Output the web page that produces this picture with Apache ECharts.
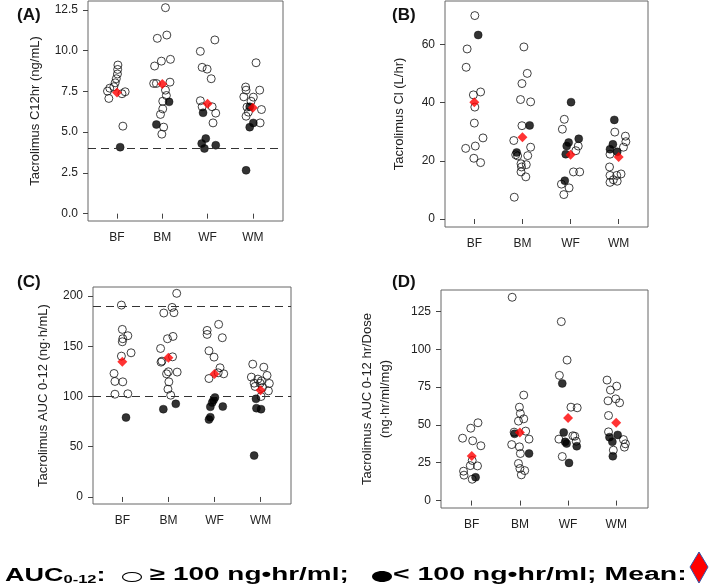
<!DOCTYPE html>
<html>
<head>
<meta charset="utf-8">
<script src="https://cdn.jsdelivr.net/npm/echarts@6/dist/echarts.min.js"></script>
<style>
  html, body { margin: 0; padding: 0; background: #fff; }
  #chart { width: 709px; height: 586px; }
</style>
</head>
<body>
<div id="chart"></div>
<script>
const groups = ['BF', 'BM', 'WF', 'WM'];

// values per group (BF, BM, WF, WM) and the horizontal jitter of each point
// (A) C12hr
const aOpen = [
  [9.12, 8.85, 8.57, 8.28, 8.03, 7.70, 7.52, 7.07, 7.36, 7.48, 5.37, 7.79],
  [12.64, 10.96, 10.76, 9.36, 9.47, 9.06, 7.99, 7.99, 8.07, 7.58, 7.25, 6.9, 6.43, 6.09, 5.31, 4.88],
  [10.66, 9.96, 8.98, 8.87, 8.28, 6.93, 6.56, 6.56, 6.17, 5.57],
  [9.26, 7.77, 7.58, 7.58, 7.15, 7.17, 6.9, 6.54, 6.23, 5.98, 6.39, 5.57]
];
const aOpenJit = [
  [0.02, 0.015, 0.01, -0.015, -0.04, -0.16, -0.21, -0.18, 0.11, 0.18, 0.13, -0.07],
  [0.07, 0.10, -0.11, -0.02, 0.18, -0.17, -0.19, -0.13, 0.17, 0.07, 0.09, 0.01, 0.01, -0.04, 0.03, -0.01],
  [0.16, -0.16, -0.12, -0.01, 0.08, -0.16, -0.12, 0.10, 0.18, 0.12],
  [0.07, -0.16, -0.15, 0.15, 0.01, -0.20, -0.04, -0.13, -0.10, -0.15, 0.19, 0.16]
];
const aFilled = [[4.08], [5.47, 6.86], [6.19, 4.61, 4.30, 4.0, 4.2], [6.56, 5.31, 5.57, 2.66]];
const aFilledJit = [[0.07], [-0.13, 0.15], [-0.10, -0.04, -0.13, -0.07, 0.18], [-0.07, -0.07, 0.01, -0.15]];
const aMean = [7.44, 7.95, 6.74, 6.5];

// (B) Cl
const bOpen = [
  [69.98, 58.5, 52.2, 43.7, 42.7, 38.5, 33.0, 27.9, 25.1, 24.3, 20.9, 19.4],
  [59.2, 50.1, 46.6, 41.1, 40.3, 32.1, 27.0, 24.7, 22.1, 21.7, 21.8, 19.0, 18.7, 17.9, 16.2, 14.5, 7.5],
  [34.3, 30.9, 25.1, 23.5, 12.0, 10.7, 8.4, 16.2, 16.2],
  [29.9, 28.5, 26.6, 24.7, 22.3, 17.9, 15.0, 12.6, 13.5, 15.0, 15.5, 13.0]
];
const bOpenJit = [
  [0.01, -0.15, -0.17, 0.13, -0.02, 0.01, 0, 0.18, 0.02, -0.18, -0.01, 0.13],
  [0.03, 0.10, -0.01, -0.04, 0.17, -0.01, -0.18, 0.17, -0.14, -0.10, 0.11, -0.03, 0.08, -0.02, -0.03, 0.07, -0.17],
  [-0.13, -0.17, 0.16, 0.11, -0.19, -0.03, -0.14, 0.06, 0.19],
  [-0.08, 0.14, 0.15, 0.10, -0.18, -0.19, -0.18, -0.18, -0.11, -0.04, 0.05, -0.03]
];
const bFilled = [[63.3], [32.2, 22.9], [40.2, 27.6, 26.3, 25.1, 22.3, 13.2], [34.1, 25.7, 24.0, 23.1]];
const bFilledJit = [[0.08], [0.15, -0.12], [0.01, 0.17, -0.04, -0.08, -0.10, -0.12], [-0.09, -0.12, -0.18, -0.03]];
const bMean = [40.2, 28.1, 22.1, 21.3];

// (C) AUC 0-12
const cOpen = [
  [191.0, 166.8, 160.5, 157.5, 154.5, 143.5, 140.2, 122.9, 115, 114.6, 102.3, 102.7],
  [202.7, 188.7, 183.1, 183.4, 159.8, 157.5, 147.8, 135.2, 134.2, 139.5, 124.6, 122.6, 124.3, 114.6, 107.3, 101.3],
  [171.8, 165.8, 161.8, 158.5, 145.5, 139.2, 128.6, 123.6, 122.6, 117.9],
  [132.2, 129.2, 119.3, 117.3, 121.0, 115.6, 113.3, 113.0, 110.0, 113.3, 109.0, 105.6, 100.0]
];
const cOpenJit = [
  [-0.02, 0, 0.12, 0.01, 0, 0.19, -0.02, -0.18, -0.16, 0.01, -0.16, 0.12],
  [0.18, 0.08, -0.10, 0.12, 0.10, -0.02, -0.17, -0.14, -0.16, 0.09, 0, -0.04, 0.19, 0.01, -0.01, 0.05],
  [0.09, -0.16, -0.16, 0.17, -0.12, -0.01, 0.12, 0.08, 0.20, -0.12],
  [-0.17, 0.07, -0.20, -0.06, 0.14, 0.02, -0.14, 0.19, -0.12, -0.01, 0.04, 0.17, 0.01]
];
const cFilled = [[79.1], [87.4, 92.7], [99.0, 96.5, 94.0, 89.7, 90.0, 79.4, 77.1], [97.7, 88.4, 87.4, 41.2]];
const cFilledJit = [[0.08], [-0.11, 0.16], [0.01, -0.02, -0.05, -0.09, 0.18, -0.09, -0.12], [-0.10, -0.09, 0.01, -0.14]];
const cMean = [134.6, 138.5, 122.3, 106.3];

// (D) AUC 0-12 / Dose
const dOpen = [
  [51.4, 47.8, 41.2, 39.5, 36.2, 26.5, 23.1, 22.9, 19.4, 16.8, 14.1],
  [134.3, 69.7, 61.7, 57.5, 54.0, 52.5, 45.9, 45.2, 37.0, 40.6, 35.5, 31.1, 24.5, 21.2, 19.8, 17.0],
  [118.2, 92.8, 82.7, 61.7, 61.3, 40.6, 42.8, 42.5, 39.2, 29.1],
  [79.6, 73.0, 75.6, 67.2, 64.6, 65.9, 56.2, 45.4, 33.3, 40.3, 37.5, 35.3]
];
const dOpenJit = [
  [0.13, -0.02, -0.19, 0.02, 0.19, 0.01, -0.03, 0.12, -0.17, -0.16, 0.01],
  [-0.16, 0.08, -0.01, 0.01, 0.08, -0.03, 0.12, -0.12, -0.17, 0.19, -0.01, 0.01, -0.03, 0, 0.10, 0.03],
  [-0.14, -0.02, -0.18, 0.06, 0.19, -0.19, 0.10, 0.14, 0.17, -0.12],
  [-0.19, -0.12, 0.01, -0.01, 0.07, -0.17, -0.16, -0.16, -0.06, 0.15, 0.19, 0.17]
];
const dFilled = [[15.4], [44.1, 31.1], [77.4, 45.0, 38.8, 37.7, 35.9, 24.9], [43.4, 41.9, 38.8, 29.3]];
const dFilledJit = [[0.08], [-0.11, 0.19], [-0.12, -0.09, -0.06, -0.03, 0.18, 0.02], [0.03, -0.14, -0.08, -0.07]];
const dMean = [29.5, 45.0, 54.5, 51.4];

const yTicks = [
  [0, 2.5, 5, 7.5, 10, 12.5],
  [0, 20, 40, 60],
  [0, 50, 100, 150, 200],
  [0, 25, 50, 75, 100, 125]
];
const refLines = [[4], [], [190, 100], []];
const yNames = [
  'Tacrolimus C12hr (ng/mL)',
  'Tacrolimus Cl (L/hr)',
  'Tacrolimus AUC 0-12 (ng\u00b7h/mL)',
  'Tacrolimus AUC 0-12 hr/Dose\n(ng\u00b7hr/ml/mg)'
];
const panelTags = ['(A)', '(B)', '(C)', '(D)'];

const panels = [
  { open: aOpen, openJit: aOpenJit, filled: aFilled, filledJit: aFilledJit, mean: aMean },
  { open: bOpen, openJit: bOpenJit, filled: bFilled, filledJit: bFilledJit, mean: bMean },
  { open: cOpen, openJit: cOpenJit, filled: cFilled, filledJit: cFilledJit, mean: cMean },
  { open: dOpen, openJit: dOpenJit, filled: dFilled, filledJit: dFilledJit, mean: dMean }
];

// layout
const grids = [
  { left: 88, top: 1, width: 195, height: 220 },
  { left: 445, top: 1, width: 203, height: 226 },
  { left: 93, top: 287, width: 198, height: 217 },
  { left: 441, top: 290, width: 207, height: 218 }
];
const xRange = [[0.36, 4.665], [0.39, 4.61], [0.364, 4.66], [0.362, 4.66]];
const yRange = [[-0.45, 13.05], [-2.75, 75], [-7, 209], [-4.9, 139.1]];
const nameGaps = [44, 37, 41, 47];
const tagPos = [[17, 16], [392, 16], [17, 283], [392, 283]];

function points(vals, jit) {
  const out = [];
  vals.forEach((arr, g) => {
    arr.forEach((v, i) => out.push([g + 1 + jit[g][i], v]));
  });
  return out;
}

const font = 'Liberation Sans, Arial, sans-serif';
const xAxes = [], yAxes = [], series = [], graphics = [];

panels.forEach((p, k) => {
  xAxes.push({
    type: 'value', gridIndex: k, min: xRange[k][0], max: xRange[k][1],
    axisLine: { show: false },
    splitLine: { show: false },
    axisTick: { show: true, length: 5, customValues: [1, 2, 3, 4], lineStyle: { color: '#444' } },
    axisLabel: {
      customValues: [1, 2, 3, 4], margin: 11, color: '#222', fontSize: 12, fontFamily: font,
      formatter: v => groups[Math.round(v) - 1]
    }
  });
  yAxes.push({
    type: 'value', gridIndex: k, min: yRange[k][0], max: yRange[k][1],
    axisLine: { show: false },
    splitLine: { show: false },
    axisTick: { show: true, length: 5, customValues: yTicks[k], lineStyle: { color: '#444' } },
    axisLabel: {
      customValues: yTicks[k], margin: 10, color: '#222', fontSize: 12, fontFamily: font,
      formatter: v => (k === 0 ? v.toFixed(1) : String(v))
    },
    name: yNames[k], nameLocation: 'middle', nameGap: nameGaps[k],
    nameTextStyle: { fontSize: 13, color: '#222', fontFamily: font, lineHeight: 18 }
  });
  series.push({
    type: 'scatter', xAxisIndex: k, yAxisIndex: k,
    data: points(p.open, p.openJit),
    symbol: 'circle', symbolSize: 8,
    itemStyle: { color: 'rgba(255,255,255,0)', borderColor: '#111', borderWidth: 1 },
    silent: true,
    markLine: refLines[k].length ? {
      silent: true, symbol: 'none', label: { show: false },
      lineStyle: { type: [8, 5], color: '#333', width: 1 },
      data: refLines[k].map(v => ({ yAxis: v }))
    } : undefined
  });
  series.push({
    type: 'scatter', xAxisIndex: k, yAxisIndex: k,
    data: points(p.filled, p.filledJit),
    symbol: 'circle', symbolSize: 8,
    itemStyle: { color: '#000', borderColor: '#000', borderWidth: 0.5 },
    silent: true
  });
  series.push({
    type: 'scatter', xAxisIndex: k, yAxisIndex: k,
    data: p.mean.map((v, g) => [g + 1, v]),
    symbol: 'diamond', symbolSize: [10, 10], z: 5,
    itemStyle: { color: '#ff0000' },
    silent: true
  });
  graphics.push({
    type: 'text', left: tagPos[k][0], top: tagPos[k][1] - 9,
    style: { text: panelTags[k], font: 'bold 17px ' + font, fill: '#111' }
  });
});

// bottom key, stretched wide like the original
const keyFont = 'bold 18px ' + font;
graphics.push({
  type: 'text', x: 5, y: 566, scaleX: 1.5,
  style: {
    text: '{b|AUC}{s|0-12}{b|:}',
    rich: {
      b: { font: keyFont, fill: '#000', lineHeight: 20 },
      s: { font: 'bold 11px ' + font, fill: '#000', padding: [8, 0, 0, 0], lineHeight: 20 }
    }
  }
});
graphics.push({
  type: 'ellipse', shape: { cx: 132, cy: 577, rx: 9.5, ry: 4.5 },
  style: { fill: '#fff', stroke: '#000', lineWidth: 1.2 }
});
graphics.push({
  type: 'text', x: 150, y: 566, scaleX: 1.55,
  style: { text: '\u2265 100 ng\u2022hr/ml;', font: keyFont, fill: '#000' }
});
graphics.push({
  type: 'ellipse', shape: { cx: 382, cy: 576.5, rx: 10, ry: 5.5 },
  style: { fill: '#000' }
});
graphics.push({
  type: 'text', x: 393, y: 566, scaleX: 1.58,
  style: { text: '< 100 ng\u2022hr/ml; Mean:', font: keyFont, fill: '#000' }
});
graphics.push({
  type: 'polygon',
  shape: { points: [[699, 552], [708, 567], [699, 583], [690, 567]] },
  style: { fill: '#ff0000', stroke: '#3355aa', lineWidth: 1 }
});

const chart = echarts.init(document.getElementById('chart'), null, { renderer: 'canvas' });
chart.setOption({
  backgroundColor: '#fff',
  animation: false,
  grid: grids.map(g => Object.assign({ show: true, borderColor: '#666', borderWidth: 1, backgroundColor: 'transparent' }, g)),
  xAxis: xAxes,
  yAxis: yAxes,
  series: series,
  graphic: graphics
});
</script>
</body>
</html>
